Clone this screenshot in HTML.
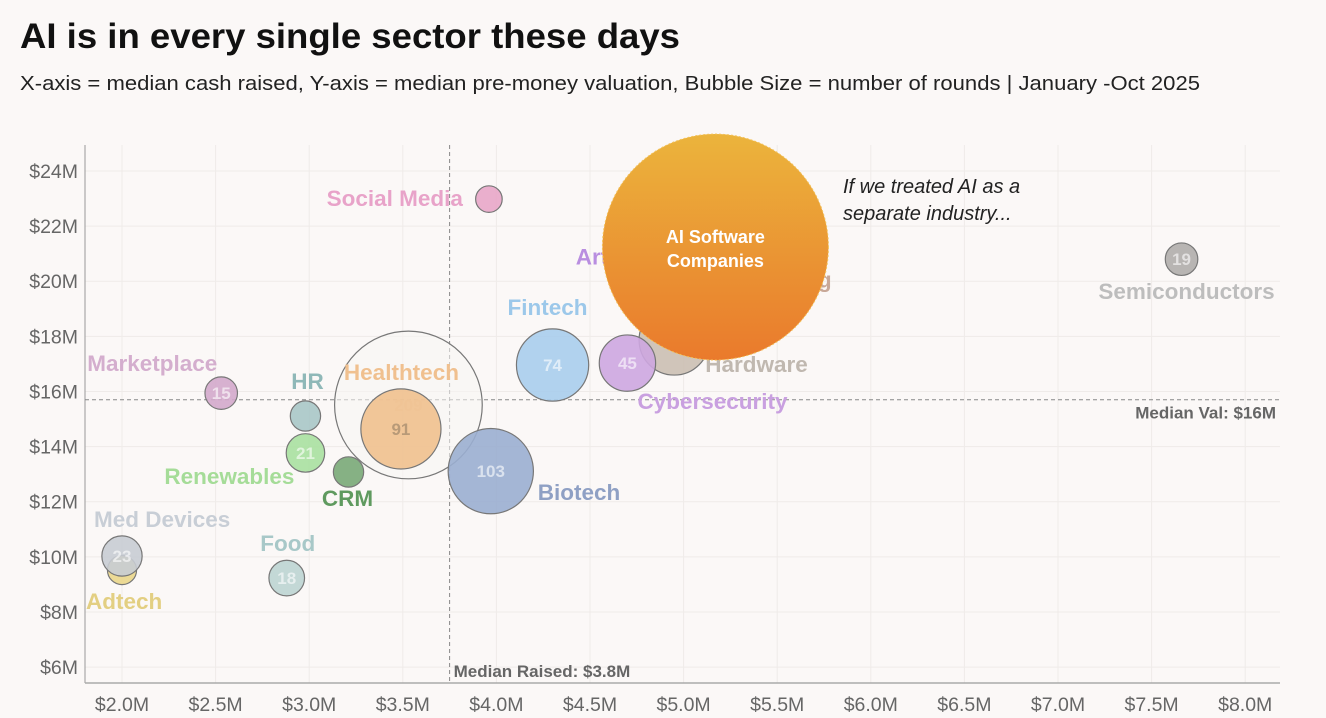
<!DOCTYPE html>
<html><head><meta charset="utf-8"><style>
html,body{margin:0;padding:0;background:#fbf8f7;}
svg{display:block;font-family:"Liberation Sans",sans-serif;}
</style></head><body>
<svg id="chart" width="1326" height="718" viewBox="0 0 1326 718" xmlns="http://www.w3.org/2000/svg">
<rect width="1326" height="718" fill="#fbf8f7"/>
<text x="20" y="48" font-size="35" font-weight="bold" fill="#111" textLength="660" lengthAdjust="spacingAndGlyphs">AI is in every single sector these days</text>
<text x="20" y="90" font-size="20" fill="#222" textLength="1180" lengthAdjust="spacingAndGlyphs">X-axis = median cash raised, Y-axis = median pre-money valuation, Bubble Size = number of rounds | January -Oct 2025</text>
<g id="grid"></g>
<g id="axes"></g>
<g id="marks"></g>
<g id="labels"></g>
<g id="toplayer"></g>
<text x="843" y="193" font-size="20" font-style="italic" fill="#222">If we treated AI as a</text>
<text x="843" y="220" font-size="20" font-style="italic" fill="#222">separate industry...</text>
</svg>
<script>
const xTicks = [2.0,2.5,3.0,3.5,4.0,4.5,5.0,5.5,6.0,6.5,7.0,7.5,8.0];
const yTicks = [6,8,10,12,14,16,18,20,22,24];
const sectors = ["Arts","Gaming","Enterprise","Healthtech","Social Media","Semiconductors","Fintech","Hardware","Cybersecurity","Marketplace","HR","Renewables","CRM","Biotech","Adtech","Med Devices","Food","AI Software Companies"];
const cashRaised = [4.75,5.15,3.53,3.49,3.96,7.66,4.30,4.95,4.70,2.53,2.98,2.98,3.21,3.97,2.0,2.0,2.88,5.17];
const valuation = [21.3,20.5,15.51,14.64,22.98,20.8,16.96,17.87,17.03,15.94,15.11,13.77,13.08,13.11,9.52,10.03,9.23,21.24];
const rounds = [40,40,309,91,10,15,74,70,45,15,13,21,13,103,12,23,18,724];
const countLabels = ["","","209","91","","19","74","","45","15","","21","","103","","23","18",""];
const medianRaised = 3.75, medianRaisedText = "$3.8M", medianVal = 15.7;

const X0=122, XK=187.2, Y0=171, YK=27.56, LEFT=85, RIGHT=1280, TOP=145, BOTTOM=683;
const xPx = v => X0 + (v-2)*XK;
const yPx = v => Y0 + (24-v)*YK;
const rPx = n => 4.2*Math.sqrt(n);

const fills = ["#c9a0e6","#cdb0a0","#f8f6f4","#efc08e","#e8a6c8","#b0adab","#a9cdec","#cbbfb3","#cda6e0","#d3a8cb","#a8c6c6","#a8e0a0","#79a877","#9aaed0","#ead68a","#c8ccd3","#bcd4d2","#f0a030"];
const labelColors = ["#b98ee0","#c8a898","#999","#f0c08f","#e8a3c9","#bdbdbd","#9cc8ea","#c0b8b0","#c9a0e0","#d4aece","#8fb8b8","#a5dc98","#5f9a5f","#8fa0c4","#e3cf82","#c8ced6","#a8c8c8","#fff"];
const labelLayout = [["start",-61,19],["end",120,20],null,["start",-57,-49],["end",-26,7],["middle",5,40],["middle",-5,-50],["start",31,32],["start",10,46],["start",-134,-22],["middle",2,-27],["end",-11,31],["middle",-1,34],["start",47,29],["start",-36,39],["start",-28,-29],["middle",1,-27],null];

const NS="http://www.w3.org/2000/svg";
function mk(tag, attrs, parent){const e=document.createElementNS(NS,tag);for(const k in attrs)e.setAttribute(k,attrs[k]);parent.appendChild(e);return e;}
const gridG=document.getElementById('grid'), axesG=document.getElementById('axes'), marksG=document.getElementById('marks'), labelsG=document.getElementById('labels'), topLayer=document.getElementById('toplayer');

xTicks.forEach(t=>{
  const g=mk('line',{x1:xPx(t),x2:xPx(t),y1:TOP,y2:BOTTOM,stroke:"#efebe9","stroke-width":1},gridG);
  
  
  const l=mk('text',{x:xPx(t),y:711,"text-anchor":"middle","font-size":19.5,fill:"#666"},axesG);
  l.textContent="$"+t.toFixed(1)+"M";
  
  
});
yTicks.forEach(t=>{
  const g=mk('line',{x1:LEFT,x2:RIGHT,y1:yPx(t),y2:yPx(t),stroke:"#efebe9","stroke-width":1},gridG);
  
  
  const l=mk('text',{x:78,y:yPx(t)+7,"text-anchor":"end","font-size":19.5,fill:"#666"},axesG);
  l.textContent="$"+t+"M";
  
  
});
let a=mk('line',{x1:LEFT,x2:LEFT,y1:TOP,y2:BOTTOM,stroke:"#999","stroke-width":1},axesG);


a=mk('line',{x1:LEFT,x2:RIGHT,y1:BOTTOM,y2:BOTTOM,stroke:"#aaa","stroke-width":1.5},axesG);



let m=mk('line',{x1:xPx(medianRaised),x2:xPx(medianRaised),y1:TOP,y2:BOTTOM,stroke:"#888","stroke-dasharray":"4,3","stroke-width":1},axesG);


m=mk('line',{x1:LEFT,x2:RIGHT,y1:yPx(medianVal),y2:yPx(medianVal),stroke:"#888","stroke-dasharray":"4,3","stroke-width":1},axesG);


m=mk('text',{x:xPx(medianRaised)+4,y:677,"font-size":17,"font-weight":"bold",fill:"#666"},axesG);
m.textContent="Median Raised: "+medianRaisedText;


m=mk('text',{x:1276,y:yPx(medianVal)+19,"text-anchor":"end","font-size":17,"font-weight":"bold",fill:"#666"},axesG);
m.textContent="Median Val: $"+Math.round(medianVal)+"M";



const defs=mk('defs',{},document.getElementById('chart'));
const lg=mk('linearGradient',{id:"aiGrad",x1:0,y1:0,x2:0,y2:1},defs);
mk('stop',{offset:"0%","stop-color":"#ebb43c"},lg);
mk('stop',{offset:"100%","stop-color":"#ea7a2c"},lg);

sectors.forEach((s,i)=>{
  const cx=xPx(cashRaised[i]), cy=yPx(valuation[i]), r=rPx(rounds[i]);
  const isAI = i===sectors.length-1;
  const layer = isAI ? topLayer : marksG;
  const lay=labelLayout[i];
  if(lay){
    const t=mk('text',{x:cx+lay[1],y:cy+lay[2],"text-anchor":lay[0],"font-size":22.5,"font-weight":"bold",fill:labelColors[i]},labelsG);
    t.textContent=s;
    
    
  }
  const c=mk('circle',{cx:cx,cy:cy,r:r,fill:isAI?"url(#aiGrad)":fills[i],"fill-opacity":isAI?1:(i===2?0.55:0.9),stroke:isAI?"#f3c25a":"#777","stroke-width":isAI?1:1.2,"stroke-dasharray":isAI?"2,2":"none"},layer);
  
  
  if(countLabels[i]){
    const n=mk('text',{x:cx,y:cy+6,"text-anchor":"middle","font-size":17,"font-weight":"bold",fill:i===2?"#f1e6d8":(i===3?"#b89a78":"rgba(255,255,255,0.6)")},layer);
    n.textContent=countLabels[i];
    
    
  }
  if(isAI){
    const t1=mk('text',{x:cx,y:cy-4,"text-anchor":"middle","font-size":18,"font-weight":"bold",fill:"#fff"},topLayer);
    t1.textContent="AI Software";
    
    
    const t2=mk('text',{x:cx,y:cy+20,"text-anchor":"middle","font-size":18,"font-weight":"bold",fill:"#fff"},topLayer);
    t2.textContent="Companies";
    
    
  }
});
</script>
</body></html>
